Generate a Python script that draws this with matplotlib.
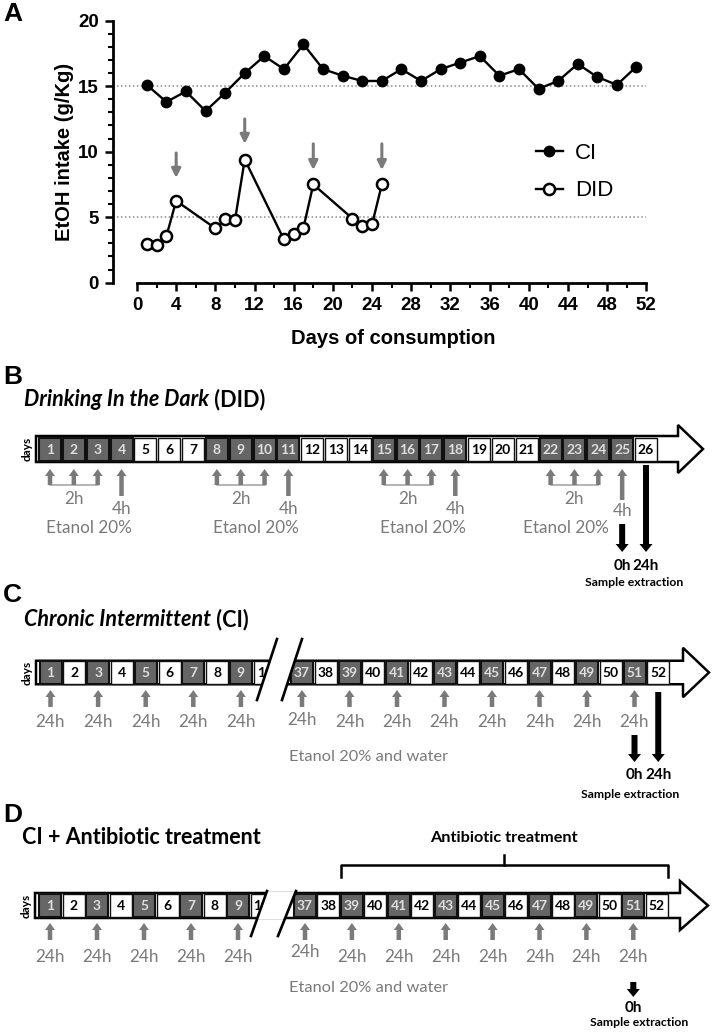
import matplotlib.pyplot as plt
from matplotlib.patches import Rectangle, Polygon, FancyArrow

plt.rcParams['font.family'] = ['Liberation Sans', 'DejaVu Sans']

# ---- panel A data ----
ci_days = list(range(1, 52, 2))
ci_vals = [15.1, 13.8, 14.6, 13.1, 14.5, 16.0, 17.3, 16.3, 18.2, 16.3, 15.8, 15.4, 15.4,
           16.3, 15.4, 16.3, 16.8, 17.3, 15.8, 16.3, 14.8, 15.4, 16.7, 15.7, 15.1, 16.5]
did_days = [1, 2, 3, 4, 8, 9, 10, 11, 15, 16, 17, 18, 22, 23, 24, 25]
did_vals = [2.95, 2.9, 3.55, 6.25, 4.15, 4.85, 4.75, 9.4, 3.3, 3.7, 4.2, 7.5, 4.9, 4.3, 4.45, 7.5]
peak_days = [4, 11, 18, 25]
peak_arrow_top = [9.9, 12.5, 10.6, 10.6]
peak_arrow_tip = [8.0, 10.6, 8.6, 8.6]
ref_lines = [5, 15]

# ---- protocol diagrams ----
did_all_days = list(range(1, 27))
did_drink_days = [1, 2, 3, 4, 8, 9, 10, 11, 15, 16, 17, 18, 22, 23, 24, 25]
did_groups = [[1, 2, 3, 4], [8, 9, 10, 11], [15, 16, 17, 18], [22, 23, 24, 25]]
ci_left_days = list(range(1, 11))
ci_right_days = list(range(37, 53))
ci_drink_days = list(range(1, 11, 2)) + list(range(37, 53, 2))
abx_start, abx_end = 39, 52

W, H = 714, 1034
fig = plt.figure(figsize=(W / 100, H / 100), dpi=100)

ov = fig.add_axes([0, 0, 1, 1])
ov.set_xlim(0, W)
ov.set_ylim(H, 0)
ov.axis('off')

def px_axes(l, t, r, b):
    return fig.add_axes([l / W, 1 - b / H, (r - l) / W, (b - t) / H])

# ================= A =================
ax = px_axes(113, 20.7, 660, 282.7)
ax.patch.set_alpha(0)
ax.hlines(ref_lines, -2.45, 52, colors='#8a8a8a', linestyles=(0, (1, 1.6)), lw=1.1)
ax.plot(ci_days, ci_vals, '-o', color='black', lw=1.7, ms=7.5, clip_on=False, label='CI')
ax.plot(did_days, did_vals, '-o', color='black', mfc='white', mec='black', mew=1.8,
        lw=1.7, ms=8, clip_on=False, label='DID')
for d, a, b in zip(peak_days, peak_arrow_top, peak_arrow_tip):
    ax.annotate('', xy=(d, b), xytext=(d, a),
                arrowprops=dict(arrowstyle='-|>', color='#7a7a7a', lw=2.2,
                                mutation_scale=13, shrinkA=0, shrinkB=0))
ax.set_xlim(-2.45, 53.4)
ax.set_ylim(0, 20)
for s in ['top', 'right']:
    ax.spines[s].set_visible(False)
ax.spines['left'].set_linewidth(2)
ax.spines['bottom'].set_linewidth(2)
ax.spines['bottom'].set_bounds(0, 52)
ax.set_xticks(range(0, 53, 4))
ax.set_xticks(range(0, 53, 2), minor=True)
ax.set_yticks(range(0, 21, 5))
ax.set_yticks(range(0, 21), minor=True)
ax.tick_params(which='major', length=6, width=1.8, labelsize=13.5, pad=4)
ax.tick_params(which='minor', length=3.5, width=1.5)
for lbl in ax.get_xticklabels() + ax.get_yticklabels():
    lbl.set_fontweight('bold')
leg = ax.legend(loc='center left', bbox_to_anchor=(536, 172), bbox_transform=ov.transData,
                frameon=False, fontsize=16, handlelength=1.2, handletextpad=0.55,
                labelspacing=0.75, borderpad=0, borderaxespad=0)

ov.text(3, 14, 'A', fontsize=19, fontweight='bold', va='center', ha='left')
ov.text(64, 152, 'EtOH intake (g/Kg)', rotation=90, fontsize=14.5, fontweight='bold',
        va='center', ha='center')
ov.text(393, 338, 'Days of consumption', fontsize=14.5, fontweight='bold',
        va='center', ha='center')

# ================= helpers for diagrams =================
GRAY = '#7a7a7a'
DARK = '#666666'
FONT = 'Lato'

def shaft(x0, hb, tip, yc, sh, hh):
    pts = [(x0, yc - sh / 2), (hb, yc - sh / 2), (hb, yc - hh / 2), (tip, yc),
           (hb, yc + hh / 2), (hb, yc + sh / 2), (x0, yc + sh / 2)]
    ov.add_patch(Polygon(pts, closed=True, fc='white', ec='black', lw=1.8, zorder=2))
    ov.text(x0 - 9, yc, 'days', rotation=90, fontsize=8.5, fontweight='bold',
            family=FONT, va='center', ha='center')

def cells(days, d_first, x_first, pitch, yc, dark_days):
    for d in days:
        xc = x_first + (d - d_first) * pitch
        dark = d in dark_days
        ov.add_patch(Rectangle((xc - 11, yc - 11.5), 22, 23, fc=DARK if dark else 'white',
                               ec='#111111', lw=1.5 if dark else 1.0, zorder=3))
        ov.text(xc, yc + 0.5, str(d), ha='center', va='center',
                color='#dedede' if dark else 'black', fontsize=10, fontweight='bold',
                family=FONT, zorder=4)

def arrow(x, y0, y1, color, w, hw, hl):
    ov.add_patch(FancyArrow(x, y0, 0, y1 - y0, width=w, head_width=hw, head_length=hl,
                            length_includes_head=True, fc=color, ec='none', zorder=3))

def gtext(x, y, s, size=12.3, color=GRAY, weight='normal'):
    ov.text(x, y, s, ha='center', va='center', fontsize=size, color=color,
            fontweight=weight, family=FONT)

def title(x, y, ital, rest):
    t = ov.text(x, y, ital, fontsize=15.5, fontweight='bold', style='italic' if rest else 'normal',
                family=FONT, va='center', ha='left')
    if rest:
        ov.annotate(rest, xy=(1, 0.5), xycoords=t, va='center', ha='left', fontsize=15.5,
                    fontweight='bold', family=FONT)

def brk(yt, yb, x1b, x1t, x2b, x2t, sy0, sy1):
    def xat(xb, xt, y):
        return xb + (y - yb) * (xt - xb) / (yt - yb)
    pts = [(xat(x1b, x1t, sy1), sy1), (xat(x1b, x1t, sy0), sy0),
           (xat(x2b, x2t, sy0), sy0), (xat(x2b, x2t, sy1), sy1)]
    ov.add_patch(Polygon(pts, closed=True, fc='white', ec='none', zorder=5))
    ov.plot([x1b, x1t], [yb, yt], color='black', lw=1.9, zorder=6)
    ov.plot([x2b, x2t], [yb, yt], color='black', lw=1.9, zorder=6)

def sample(xs, y0s, y1, labels, ylab, ysamp, xsamp):
    for x, y0 in zip(xs, y0s):
        arrow(x, y0, y1, 'black', 6, 13, 8)
    for x, s in zip(xs, labels):
        gtext(x, ylab, s, size=11, color='black', weight='bold')
    gtext(xsamp, ysamp, 'Sample extraction', size=8.8, color='black', weight='bold')

# ================= B =================
ov.text(3, 377, 'B', fontsize=19, fontweight='bold', va='center', ha='left')
title(24, 400, 'Drinking In the Dark', ' (DID)')
pB, xB = 23.84, 50
cx = lambda d: xB + (d - 1) * pB
shaft(36, 678, 703, 449, 26, 48)
cells(did_all_days, 1, xB, pB, 449, did_drink_days)
for gi, g in enumerate(did_groups):
    for d in g[:3]:
        arrow(cx(d), 485, 469, GRAY, 4.5, 10, 7)
    ov.plot([cx(g[0]), cx(g[2])], [485, 485], color='#a8a8a8', lw=1.2, zorder=2)
    last = gi == len(did_groups) - 1
    arrow(cx(g[3]), 500 if last else 496, 469, GRAY, 4.5, 10, 7)
    gtext(cx(g[1]), 499, '2h')
    gtext(cx(g[3]), 511 if last else 509, '4h')
    gtext(566 if last else cx(g[0]) + 39, 528, 'Etanol 20%')
sample([cx(25), cx(26)], [524, 465], 552, ['0h', '24h'], 566, 582, 634)

# ================= C =================
ov.text(3, 595, 'C', fontsize=19, fontweight='bold', va='center', ha='left')
title(24, 620, 'Chronic Intermittent', ' (CI)')
yC = 672.5
shaft(36, 683, 709, yC, 23.5, 49.4)
cells(ci_left_days, 1, 50.5, 23.8, yC, ci_drink_days)
cells(ci_right_days, 37, 302, 23.75, yC, ci_drink_days)
brk(639, 700, 257, 277, 282, 302, yC - 14, yC + 14)
for d in ci_drink_days:
    x = 50.5 + (d - 1) * 23.8 if d < 30 else 302 + (d - 37) * 23.75
    arrow(x, 707, 690, GRAY, 4.5, 10, 7)
    gtext(x, 720 if d == 37 else 722, '24h')
gtext(369, 757, 'Etanol 20% and water', size=11.8)
sample([302 + 14 * 23.75, 302 + 15 * 23.75], [735, 692], 762, ['0h', '24h'], 775, 794, 630)

# ================= D =================
ov.text(3, 815, 'D', fontsize=19, fontweight='bold', va='center', ha='left')
title(22, 838, 'CI + Antibiotic treatment', '')
yD = 905.5
shaft(35, 680, 708, yD, 25, 49)
cells(ci_left_days, 1, 50, 23.5, yD, ci_drink_days)
cells(ci_right_days, 37, 305, 23.45, yD, ci_drink_days)
brk(891, 936, 251, 267, 278, 296, yD - 14, yD + 14)
for d in ci_drink_days:
    x = 50 + (d - 1) * 23.5 if d < 30 else 305 + (d - 37) * 23.45
    arrow(x, 940, 923, GRAY, 4.5, 10, 7)
    gtext(x, 952 if d == 37 else 957, '24h')
gtext(369, 988, 'Etanol 20% and water', size=11.8)
bl = 305 + (abx_start - 37) * 23.45 - 11
br = 305 + (abx_end - 37) * 23.45 + 11
ov.plot([bl, bl, br, br], [877, 865, 865, 877], color='black', lw=1.8)
ov.plot([(bl + br) / 2] * 2, [865, 855], color='black', lw=1.8)
gtext((bl + br) / 2, 838, 'Antibiotic treatment', size=11.7, color='black', weight='bold')
sample([305 + 14 * 23.45], [982], 997, ['0h'], 1008, 1023, 639)

fig.savefig('out.png', dpi=100)
